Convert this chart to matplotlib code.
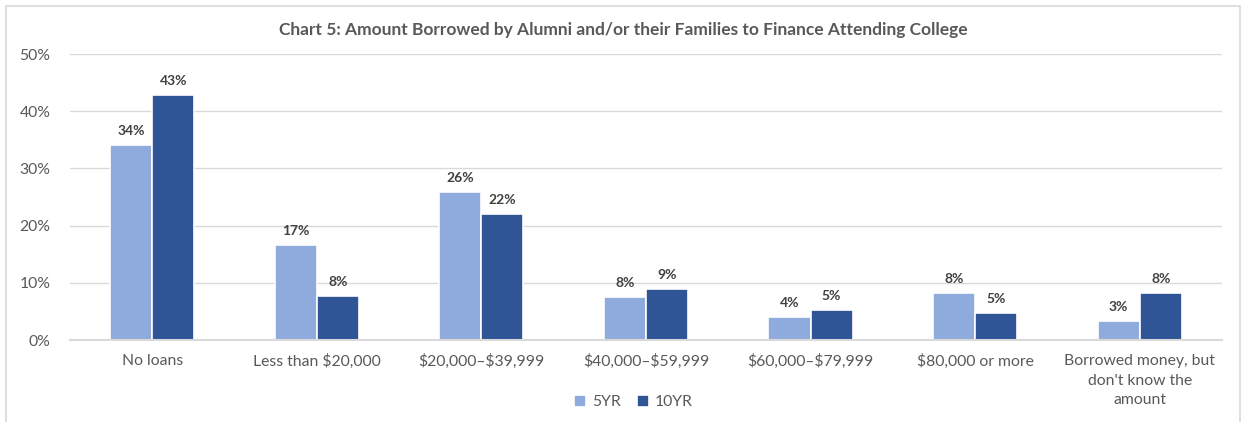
import matplotlib.pyplot as plt
import numpy as np
from matplotlib.patches import Rectangle

plt.rcParams["font.family"] = ["Lato", "DejaVu Sans"]

categories = [
    "No loans",
    "Less than \\$20,000",
    "\\$20,000\u2013\\$39,999",
    "\\$40,000\u2013\\$59,999",
    "\\$60,000\u2013\\$79,999",
    "\\$80,000 or more",
    "Borrowed money, but\ndon't know the\namount",
]
five_yr = [34.1, 16.6, 25.9, 7.5, 4.0, 8.2, 3.3]
ten_yr = [42.8, 7.7, 22.0, 8.9, 5.2, 4.7, 8.2]
five_lbl = ["34%", "17%", "26%", "8%", "4%", "8%", "3%"]
ten_lbl = ["43%", "8%", "22%", "9%", "5%", "5%", "8%"]
series_names = ["5YR", "10YR"]

light = "#8FAADC"
dark = "#2F5597"
grid_c = "#D9D9D9"
text_c = "#595959"

fig = plt.figure(figsize=(12.47, 4.22), dpi=100)
ax = fig.add_axes([0.056, 0.194, 0.924, 0.678])

x = np.arange(len(categories))
w = 0.256
b1 = ax.bar(x - w / 2, five_yr, w, color=light, edgecolor="white", linewidth=1.2,
            label=series_names[0], zorder=3)
b2 = ax.bar(x + w / 2, ten_yr, w, color=dark, edgecolor="white", linewidth=1.2,
            label=series_names[1], zorder=3)

for bars, lbls in ((b1, five_lbl), (b2, ten_lbl)):
    for rect, lbl in zip(bars, lbls):
        ax.annotate(lbl, (rect.get_x() + rect.get_width() / 2, rect.get_height()),
                    xytext=(0, 6), textcoords="offset points", ha="center", va="bottom",
                    fontsize=10, fontweight="bold", color="#404040")

ax.set_xlim(-0.5, len(categories) - 0.5)
ax.set_ylim(0, 50)
ax.set_yticks(range(0, 51, 10))
ax.set_yticklabels([f"{v}%" for v in range(0, 51, 10)])
ax.set_xticks(x)
ax.set_xticklabels(categories, linespacing=1.5)
ax.tick_params(axis="both", length=0, colors=text_c, labelsize=11.3)
ax.tick_params(axis="x", pad=10)
ax.tick_params(axis="y", pad=14)
ax.grid(axis="y", color=grid_c, linewidth=1, zorder=0)
for s in ("top", "right", "left"):
    ax.spines[s].set_visible(False)
ax.spines["bottom"].set_color(grid_c)
ax.spines["bottom"].set_linewidth(1.5)
ax.spines["bottom"].set_zorder(4)

fig.text(0.5, 0.928, "Chart 5: Amount Borrowed by Alumni and/or their Families to Finance Attending College",
         ha="center", va="center", fontsize=12.5, fontweight="bold", color=text_c)

fig.legend(handles=[b1, b2], loc="center", bbox_to_anchor=(0.508, 0.047), ncol=2,
           frameon=False, fontsize=11.3, labelcolor=text_c, handlelength=0.75,
           handleheight=0.75, handletextpad=0.4, columnspacing=1.0)

fig.patches.append(Rectangle((0.005, -0.05), 0.989, 1.035, transform=fig.transFigure,
                             fill=False, edgecolor=grid_c, linewidth=1.2))

fig.savefig("out.png", dpi=100)
